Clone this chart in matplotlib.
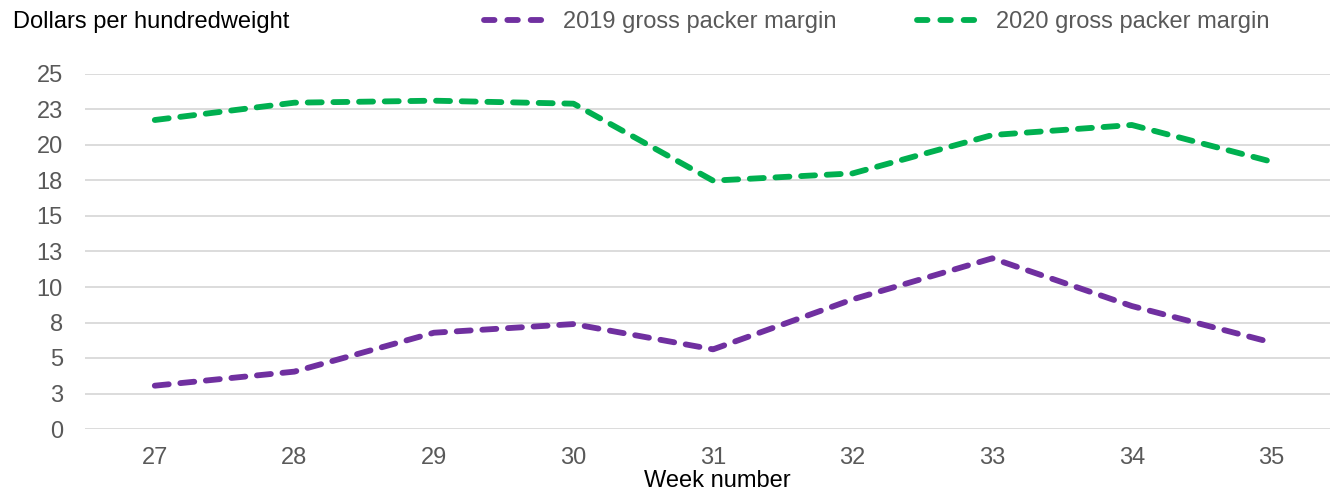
import math
import matplotlib
matplotlib.use("Agg")
import matplotlib.pyplot as plt
from matplotlib.ticker import FuncFormatter
from matplotlib.lines import Line2D

plt.rcParams['font.family'] = ['Liberation Sans', 'DejaVu Sans']

# --- data ---
weeks = [27, 28, 29, 30, 31, 32, 33, 34, 35]
margin_2019 = [3.05, 4.04, 6.78, 7.39, 5.61, 9.13, 12.02, 8.66, 6.10]
margin_2020 = [21.76, 22.98, 23.12, 22.91, 17.49, 18.0, 20.7, 21.41, 18.83]
y_ticks = [0, 2.5, 5, 7.5, 10, 12.5, 15, 17.5, 20, 22.5, 25]
series_names = ['2019 gross packer margin', '2020 gross packer margin']

purple = '#7030A0'
green = '#00B050'
grey_txt = '#595959'
fs = 17

fig = plt.figure(figsize=(13.3, 4.9), dpi=100)
ax = fig.add_axes([85 / 1330, 1 - 429 / 490, 1 - 85 / 1330, (429 - 74) / 490])

lw = 4.2
for vals, col in [(margin_2019, purple), (margin_2020, green)]:
    ax.plot(weeks, vals, color=col, lw=lw, dashes=(2.4, 2.0),
            dash_capstyle='round', solid_capstyle='round', zorder=3)

ax.set_xlim(26.5, 35.42)
ax.set_ylim(0, 25)
ax.set_yticks(y_ticks)
ax.set_xticks(weeks)
# Excel style rounding (half up)
ax.yaxis.set_major_formatter(FuncFormatter(lambda v, p: str(int(math.floor(v + 0.5)))))
ax.grid(axis='y', color='#D9D9D9', lw=1.3)
ax.set_axisbelow(True)
for s in ax.spines.values():
    s.set_visible(False)
ax.tick_params(axis='both', length=0, labelsize=fs, labelcolor=grey_txt)
ax.tick_params(axis='y', pad=16)
ax.tick_params(axis='x', pad=13)

fig.text(717 / 1330, 1 - 487 / 490, 'Week number', ha='center', va='baseline',
         fontsize=fs, color='black')
fig.text(13 / 1330, 1 - 22 / 490, 'Dollars per hundredweight', ha='left', va='center',
         fontsize=fs, color='black')

handles = [Line2D([], [], color=c, lw=lw, dashes=(1.8, 2.2), dash_capstyle='round')
           for c in (purple, green)]
leg = fig.legend(handles, series_names, loc='center', bbox_to_anchor=(877 / 1330, 1 - 22 / 490),
                 ncol=2, frameon=False, fontsize=fs, handlelength=2.8,
                 handletextpad=0.55, columnspacing=3.4)
for t in leg.get_texts():
    t.set_color(grey_txt)

fig.savefig('out.png', dpi=100)
